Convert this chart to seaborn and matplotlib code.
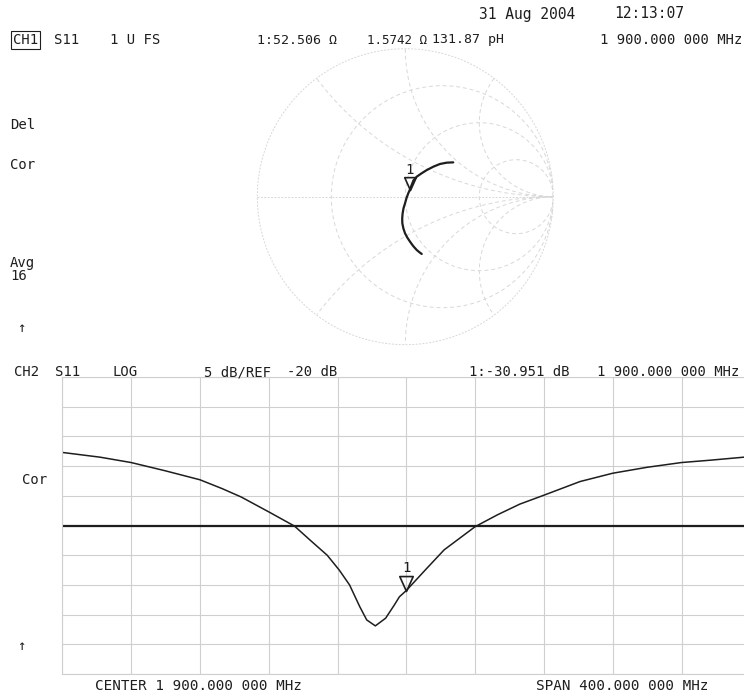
# Network analyzer screen dump: S11 Smith chart (CH1) and log magnitude (CH2)

import numpy as np
import pandas as pd
import matplotlib
matplotlib.use('Agg')
import matplotlib.pyplot as plt
import seaborn as sns
from matplotlib.path import Path

# CH2 log magnitude trace (MHz, dB)
freq_mhz = [1700, 1722, 1740, 1760, 1780, 1793, 1804, 1820, 1835, 1845, 1854, 1861,
            1867, 1873, 1877, 1882, 1888, 1893, 1896, 1900, 1911, 1922, 1940, 1953,
            1966, 1980, 2001, 2020, 2040, 2060, 2077, 2100]
s11_db = [-7.7, -8.5, -9.4, -10.8, -12.3, -13.8, -15.2, -17.7, -20.1, -22.7, -25.0, -27.5,
          -30.0, -33.7, -35.9, -36.9, -35.6, -33.4, -32.0, -30.95, -27.5, -24.1, -20.2, -18.2,
          -16.4, -14.9, -12.6, -11.2, -10.2, -9.4, -9.0, -8.4]

# CH1 Smith chart trace (reflection coefficient, real / imag)
gamma_re = [0.324, 0.280, 0.234, 0.190, 0.145, 0.110, 0.077, 0.055, 0.043, 0.030, 0.020, 0.008,
            -0.002, -0.012, -0.018, -0.021, -0.020, -0.013, -0.002, 0.014, 0.032, 0.053, 0.077,
            0.095, 0.111]
gamma_im = [0.232, 0.230, 0.221, 0.203, 0.180, 0.158, 0.135, 0.110, 0.079, 0.045, 0.023, -0.010,
            -0.045, -0.078, -0.112, -0.146, -0.180, -0.214, -0.247, -0.277, -0.304, -0.333, -0.360,
            -0.375, -0.387]
marker_idx = 9

# grid of the Smith chart
r_circles = [1 / 3, 1, 3]
x_arcs = [0.5, 1, 2, -0.5, -1, -2]

center_freq = 1900
span = 400
ref_db = -20
db_per_div = 5

W, H = 744, 698
ink = '#1e1e1e'
grid_c = '#cfcfcf'
smith_c = '#d8d8d8'

sns.set_style('white')
plt.rcParams['font.family'] = ['DejaVu Sans Mono', 'DejaVu Sans']

fig = plt.figure(figsize=(W / 100, H / 100), dpi=100)

# marker glyph: inverted triangle with its tip on the trace
tri = Path([(-0.45, 1), (0.45, 1), (0, 0), (-0.45, 1)],
           [Path.MOVETO, Path.LINETO, Path.LINETO, Path.CLOSEPOLY])

# ---- Smith chart ----
axs = fig.add_axes([257.3 / W, 1 - 344.7 / H, 296 / W, 296 / H])
axs.set_xlim(-1, 1)
axs.set_ylim(-1, 1)
axs.axis('off')

t = np.linspace(0, 2 * np.pi, 400)
axs.plot(np.cos(t), np.sin(t), color=smith_c, lw=0.7, ls=(0, (2, 1.5)), clip_on=False)
axs.plot([-1, 1], [0, 0], color=smith_c, lw=0.7, ls=(0, (2, 1.5)))
for r in r_circles:
    c, rad = r / (1 + r), 1 / (1 + r)
    axs.plot(c + rad * np.cos(t), rad * np.sin(t), color=smith_c, lw=0.7, ls=(0, (4, 3)))
for xv in x_arcs:
    rad = 1 / abs(xv)
    tt = np.linspace(0, 2 * np.pi, 2000)
    px = 1 + rad * np.cos(tt)
    py = 1 / xv + rad * np.sin(tt)
    m = px ** 2 + py ** 2 <= 1.0
    px = np.where(m, px, np.nan)
    py = np.where(m, py, np.nan)
    axs.plot(px, py, color=smith_c, lw=0.7, ls=(0, (4, 3)))

smith = pd.DataFrame({'re': gamma_re, 'im': gamma_im})
sns.lineplot(data=smith, x='re', y='im', sort=False, estimator=None, color=ink, lw=1.6, ax=axs)
axs.set_xlabel('')
axs.set_ylabel('')
mx, my = gamma_re[marker_idx], gamma_im[marker_idx]
axs.plot([mx], [my], marker=tri, ms=18.5, mfc='none', mec=ink, mew=1.2, ls='none')
axs.annotate('1', xy=(mx, my), xytext=(0, 20), textcoords='offset pixels',
             ha='center', va='center', fontsize=10, color=ink)

# ---- log magnitude ----
axl = fig.add_axes([62.3 / W, 1 - 674 / H, 688 / W, 297 / H])
f0, f1 = center_freq - span / 2, center_freq + span / 2
axl.set_xlim(f0, f1)
axl.set_ylim(ref_db - 5 * db_per_div, ref_db + 5 * db_per_div)
axl.set_xticks(np.arange(f0, f1 + 1, span / 10))
axl.set_yticks(np.arange(ref_db - 5 * db_per_div, ref_db + 5 * db_per_div + 1, db_per_div))
axl.grid(True, color=grid_c, lw=0.8)
axl.tick_params(length=0, labelbottom=False, labelleft=False)
for sp in axl.spines.values():
    sp.set_color(grid_c)
    sp.set_linewidth(0.8)

logmag = pd.DataFrame({'freq': freq_mhz, 'db': s11_db})
axl.axhline(ref_db, color=ink, lw=1.6)
sns.lineplot(data=logmag, x='freq', y='db', estimator=None, color=ink, lw=1.1, ax=axl)
axl.set_xlabel('')
axl.set_ylabel('')
bi = freq_mhz.index(center_freq)
axl.plot([freq_mhz[bi]], [s11_db[bi]], marker=tri, ms=21.5, mfc='none', mec=ink, mew=1.2, ls='none')
axl.annotate('1', xy=(freq_mhz[bi], s11_db[bi]), xytext=(0, 23), textcoords='offset pixels',
             ha='center', va='center', fontsize=10, color=ink)


# ---- screen annotations ----
def label(x, y, s, size=10, **kw):
    fig.text(x / W, 1 - y / H, s, ha='left', va='center', fontsize=size, color=ink, **kw)


label(479, 14, '31 Aug 2004', size=10.5)
label(614, 14, '12:13:07', size=10.5)

label(13, 40, 'CH1', bbox=dict(boxstyle='square,pad=0.12', fc='none', ec=ink, lw=0.8))
label(54, 40, 'S11')
label(110, 40, '1 U FS')
label(257, 40, '1:52.506 Ω', size=9.5)
label(367, 40, '1.5742 Ω', size=9)
label(432, 40, '131.87 pH', size=9.5)
label(600, 40, '1 900.000 000 MHz')

label(10, 125, 'Del')
label(10, 165, 'Cor')
label(10, 263, 'Avg')
label(10, 276, '16')
label(17, 328, '↑')

label(14, 372, 'CH2')
label(55, 372, 'S11')
label(112, 372, 'LOG')
label(204, 372, '5 dB/REF')
label(287, 372, '-20 dB')
label(469, 372, '1:-30.951 dB')
label(597, 372, '1 900.000 000 MHz')

label(22, 480, 'Cor')
label(17, 646, '↑')

label(95, 686, 'CENTER 1 900.000 000 MHz', size=10.3)
label(536, 686, 'SPAN 400.000 000 MHz', size=10.3)

fig.savefig('out.png', dpi=100)
